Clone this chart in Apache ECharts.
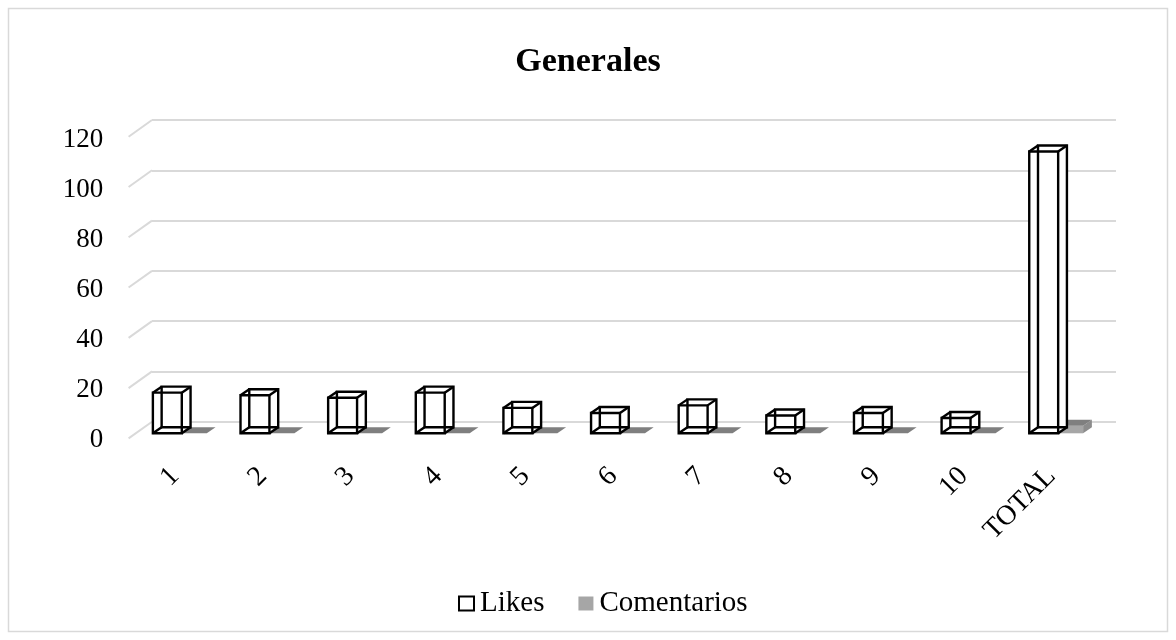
<!DOCTYPE html>
<html>
<head>
<meta charset="utf-8">
<script src="https://cdn.jsdelivr.net/npm/echarts@6/dist/echarts.min.js"></script>
<style>
html,body{margin:0;padding:0;background:#fff;}
#chart{width:1176px;height:640px;}
</style>
</head>
<body>
<div id="chart"></div>
<script>
const categories = ['1','2','3','4','5','6','7','8','9','10','TOTAL'];
const likes = [16,15,14,16,10,8,11,7,8,6,111];
const comentarios = [0,0,0,0,0,0,0,0,0,0,3];
const yTicks = [0,20,40,60,80,100,120];

const FONT = "'Liberation Serif','Times New Roman',serif";
const chart = echarts.init(document.getElementById('chart'), null, {renderer:'canvas'});

function depth(api){
  const bw = api.size([1,0])[0];
  return {bw: bw, dx: 0.1*bw, dy: -6};
}

function likesItem(params, api){
  const i = api.value(0), v = api.value(1);
  const p0 = api.coord([i,0]), pv = api.coord([i,v]);
  const d = depth(api);
  const x1 = p0[0] - 0.49*d.bw, x2 = x1 + 0.33*d.bw;
  const yb = p0[1] + 11.6, yt = yb - (p0[1]-pv[1])*1.01;
  const dx = d.dx, dy = d.dy;
  const st = {stroke:'#000', lineWidth:2.4, fill:null};
  const L = (a,b)=>({type:'line', shape:{x1:a[0],y1:a[1],x2:b[0],y2:b[1]}, style:st});
  const F = [[x1,yt],[x2,yt],[x2,yb],[x1,yb]];
  const B = F.map(p=>[p[0]+dx,p[1]+dy]);
  const children = [
    {type:'polygon', shape:{points:[[x1,yb],[x1,yt],[x1+dx,yt+dy],[x2+dx,yt+dy],[x2+dx,yb+dy],[x2,yb]]}, style:{fill:'#fff'}},
    {type:'polygon', shape:{points:B}, style:st},
    {type:'polygon', shape:{points:F}, style:st},
    L(F[0],B[0]), L(F[1],B[1]), L(F[2],B[2]), L(F[3],B[3])
  ];
  return {type:'group', children: children};
}

function comItem(params, api){
  const i = api.value(0), v = api.value(1);
  const p0 = api.coord([i,0]), pv = api.coord([i,v]);
  const d = depth(api);
  const x1 = p0[0] - 0.16*d.bw, x2 = x1 + 0.285*d.bw;
  const yb = p0[1] + 11.6, yt = yb - (p0[1]-pv[1])*1.01;
  const dx = d.dx, dy = d.dy;
  const children = [];
  if (yb - yt > 0.5) {
    children.push({type:'polygon', shape:{points:[[x1,yt],[x2,yt],[x2,yb],[x1,yb]]}, style:{fill:'#a6a6a6'}});
    children.push({type:'polygon', shape:{points:[[x2,yt],[x2+dx,yt+dy],[x2+dx,yb+dy],[x2,yb]]}, style:{fill:'#8c8c8c'}});
  }
  children.push({type:'polygon', shape:{points:[[x1,yt],[x2,yt],[x2+dx,yt+dy],[x1+dx,yt+dy]]}, style:{fill:'#7f7f7f'}});
  return {type:'group', children: children};
}

function diagItem(params, api){
  const p = api.coord([0, api.value(1)]);
  const bw = api.size([1,0])[0];
  const left = p[0] - bw/2;
  return {type:'line', shape:{x1:left-23.4, y1:p[1]+16.7, x2:left, y2:p[1]}, style:{stroke:'#d9d9d9', lineWidth:2}};
}

const option = {
  animation:false,
  backgroundColor:'#fff',
  title:{text:'Generales', left:'center', top:40, textStyle:{fontFamily:FONT, fontSize:34, fontWeight:'bold', color:'#000'}},
  graphic:[{type:'rect', shape:{x:8.5,y:8.5,width:1159,height:623}, style:{fill:'none', stroke:'#d9d9d9', lineWidth:1.5}, silent:true, z:-10}],
  legend:{
    data:[{name:'Likes', icon:'rect'},{name:'Comentarios', icon:'rect'}],
    left:453, top:584, itemWidth:15, itemHeight:14, itemGap:34,
    textStyle:{fontFamily:FONT, fontSize:29, color:'#000', padding:[0,0,0,1]}
  },
  grid:[
    {left:152, right:60, top:120, bottom:218.3},
    {left:131.2, right:80.8, top:139.5, bottom:200}
  ],
  xAxis:[
    {gridIndex:0, type:'category', data:categories, show:false},
    {gridIndex:1, type:'category', data:categories, axisLine:{show:false}, axisTick:{show:false},
     axisLabel:{rotate:45, interval:0, margin:32, fontFamily:FONT, fontSize:28, color:'#000'}}
  ],
  yAxis:[
    {gridIndex:0, type:'value', min:0, max:120, interval:20, axisLabel:{show:false}, axisLine:{show:false}, axisTick:{show:false},
     splitLine:{lineStyle:{color:'#d9d9d9', width:2}}},
    {gridIndex:1, type:'value', min:0, max:120, interval:20, axisLine:{show:false}, axisTick:{show:false}, splitLine:{show:false},
     axisLabel:{margin:28, fontFamily:FONT, fontSize:27, color:'#000'}}
  ],
  series:[
    {type:'custom', name:'grid', xAxisIndex:0, yAxisIndex:0, silent:true, renderItem:diagItem,
     data: yTicks.map(v=>[0,v]), z:1},
    {type:'custom', name:'Likes', xAxisIndex:0, yAxisIndex:0, renderItem:likesItem,
     itemStyle:{color:'#fff', borderColor:'#000', borderWidth:1.5},
     data: likes.map((v,i)=>[i,v]), z:3},
    {type:'custom', name:'Comentarios', xAxisIndex:0, yAxisIndex:0, renderItem:comItem,
     itemStyle:{color:'#a6a6a6'},
     data: comentarios.map((v,i)=>[i,v]), z:2}
  ]
};
chart.setOption(option);
</script>
</body>
</html>
